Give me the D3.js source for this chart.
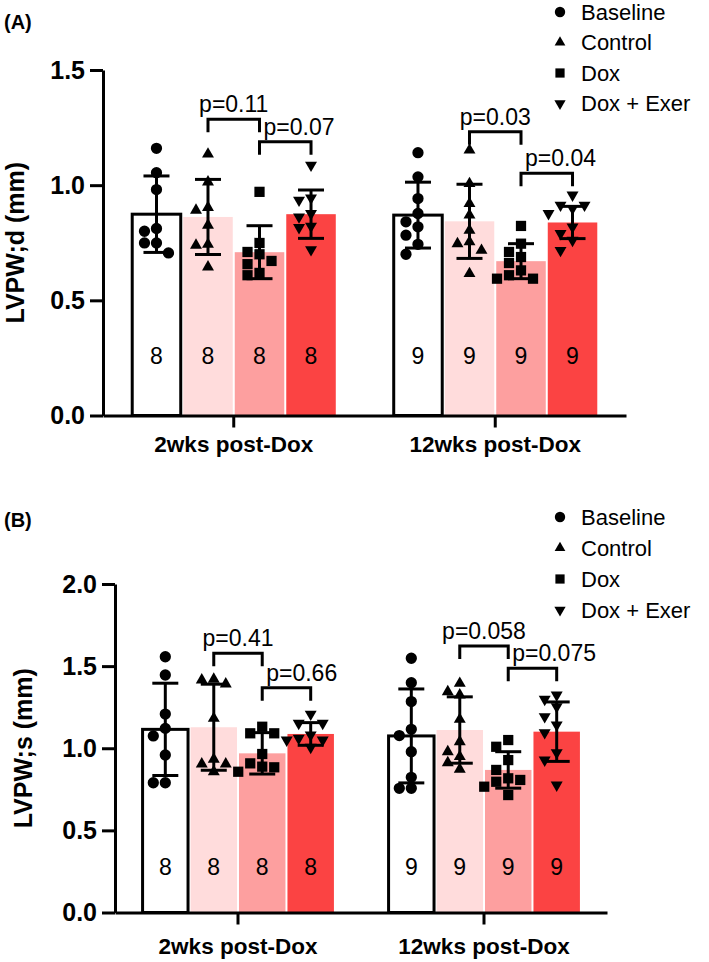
<!DOCTYPE html>
<html><head><meta charset="utf-8">
<script src="https://cdn.jsdelivr.net/npm/d3@7"></script>
<style>
body{margin:0;background:#fff}
svg{display:block}
text{font-family:"Liberation Sans",Arial,Helvetica,sans-serif}
</style>
</head><body>
<svg id="chart" width="709" height="962"></svg>
<script>
// ---------- shared categories ----------
const groups = ["2wks post-Dox", "12wks post-Dox"];
const series = ["Baseline", "Control", "Dox", "Dox + Exer"];
const seriesFill = ["#ffffff", "#ffdcdc", "#fd9f9f", "#fb4343"];
const seriesShape = ["circle", "triangle", "square", "triangleDown"];
const groupN = [8, 9];
const bracketPairs = [[1, 2], [2, 3]];

// ---------- Panel A: LVPW;d ----------
const lvpwdTicks = [0, 0.5, 1.0, 1.5];
const lvpwdMean = [[0.874, 0.862, 0.709, 0.874], [0.870, 0.843, 0.670, 0.838]];
const lvpwdSD = [[0.166, 0.163, 0.115, 0.105], [0.143, 0.161, 0.076, 0.070]];
const lvpwdPoints = [
  [[1.160, 1.054, 0.981, 0.812, 0.800, 0.749, 0.749, 0.706],
   [1.135, 1.014, 0.903, 0.891, 0.826, 0.743, 0.739, 0.645],
   [0.971, 0.749, 0.710, 0.700, 0.671, 0.657, 0.619, 0.609],
   [1.087, 0.945, 0.935, 0.877, 0.862, 0.822, 0.816, 0.720]],
  [[1.141, 1.036, 0.942, 0.877, 0.841, 0.819, 0.783, 0.743, 0.700],
   [1.152, 1.007, 0.920, 0.870, 0.804, 0.754, 0.746, 0.717, 0.616],
   [0.823, 0.746, 0.710, 0.688, 0.662, 0.630, 0.609, 0.594, 0.594],
   [0.957, 0.913, 0.913, 0.899, 0.877, 0.819, 0.790, 0.761, 0.717]]
];
const lvpwdPLabels = [["p=0.11", "p=0.07"], ["p=0.03", "p=0.04"]];
const lvpwdPLevels = [[1.286, 1.189], [1.232, 1.052]];

// ---------- Panel B: LVPW;s ----------
const lvpwsTicks = [0, 0.5, 1.0, 1.5, 2.0];
const lvpwsMean = [[1.115, 1.128, 0.969, 1.087], [1.075, 1.111, 0.868, 1.101]];
const lvpwsSD = [[0.281, 0.262, 0.126, 0.069], [0.286, 0.202, 0.111, 0.181]];
const lvpwsPoints = [
  [[1.557, 1.446, 1.208, 1.121, 1.075, 0.959, 0.790, 0.790],
   [1.420, 1.416, 1.391, 1.182, 0.933, 0.904, 0.904, 0.857],
   [1.131, 1.091, 1.091, 0.965, 0.908, 0.888, 0.884, 0.857],
   [1.208, 1.152, 1.152, 1.081, 1.061, 1.050, 1.050, 1.006]],
  [[1.548, 1.399, 1.284, 1.115, 1.077, 0.979, 0.823, 0.756, 0.756],
   [1.395, 1.344, 1.324, 1.176, 1.040, 0.979, 0.949, 0.912, 0.872],
   [1.050, 1.009, 0.928, 0.868, 0.817, 0.807, 0.796, 0.766, 0.715],
   [1.324, 1.298, 1.253, 1.192, 1.142, 1.095, 0.973, 0.928, 0.776]]
];
const lvpwsPLabels = [["p=0.41", "p=0.66"], ["p=0.058", "p=0.075"]];
const lvpwsPLevels = [[1.578, 1.369], [1.623, 1.487]];

// ---------- layout (not data) ----------
const panels = [
  { tag: "(A)", tagY: 29, title: "LVPW;d (mm)", titleX: 16,
    ticks: lvpwdTicks, mean: lvpwdMean, sd: lvpwdSD, points: lvpwdPoints,
    pLabels: lvpwdPLabels, pLevels: lvpwdPLevels,
    x0: 103, x1: 626, yTop: 70, yBot: 415.5, xPad: 9, nOffset: 52,
    legendY: 12, legendStep: 30.5 },
  { tag: "(B)", tagY: 527, title: "LVPW;s (mm)", titleX: 24,
    ticks: lvpwsTicks, mean: lvpwsMean, sd: lvpwsSD, points: lvpwsPoints,
    pLabels: lvpwsPLabels, pLevels: lvpwsPLevels,
    x0: 115, x1: 607, yTop: 584, yBot: 912.5, xPad: 14, nOffset: 37.5,
    legendY: 517, legendStep: 31 }
];

const svg = d3.select("#chart");

function shapePath(shape, size) {
  if (shape === "circle") return d3.symbol(d3.symbolCircle, size)();
  if (shape === "square") return d3.symbol(d3.symbolSquare, size)();
  return d3.symbol(d3.symbolTriangle, size)();
}
function shapeRotate(shape) { return shape === "triangleDown" ? " rotate(180)" : ""; }
const markerSize = { circle: 100, triangle: 62, square: 105, triangleDown: 62 };
const legendSize = { circle: 85, triangle: 50, square: 85, triangleDown: 55 };

panels.forEach(P => {
  const g = svg.append("g");
  const yMax = P.ticks[P.ticks.length - 1];
  const y = d3.scaleLinear().domain([0, yMax]).range([P.yBot, P.yTop]);
  const x = d3.scaleBand().domain(groups).range([P.x0, P.x1]).paddingInner(0).paddingOuter(0);
  const bw = x.bandwidth();
  const xs = d3.scaleBand().domain(series).range([bw * 0.106, bw * 0.894]).padding(0);
  const step = xs.bandwidth();

  // bars
  groups.forEach((grp, gi) => {
    series.forEach((s, si) => {
      const bx = x(grp) + xs(s);
      const top = y(P.mean[gi][si]);
      if (si === 0) {
        g.append("rect").attr("x", bx + 1.5).attr("y", top)
          .attr("width", step - 3).attr("height", y(0) - top)
          .attr("fill", "#fff").attr("stroke", "#000").attr("stroke-width", 3);
      } else {
        g.append("rect").attr("x", bx + 1).attr("y", top)
          .attr("width", step - 2).attr("height", y(0) - top)
          .attr("fill", seriesFill[si]);
      }
      g.append("text").attr("x", bx + step / 2).attr("y", P.yBot - P.nOffset)
        .attr("text-anchor", "middle").attr("font-size", 23).attr("fill", "#000")
        .text(groupN[gi]);
    });
  });

  // points with simple dodge
  groups.forEach((grp, gi) => {
    series.forEach((s, si) => {
      const cx = x(grp) + xs(s) + step / 2;
      const vals = P.points[gi][si].slice().sort((a, b) => b - a);
      const placed = [];
      const d = 12, th = 10.5;
      vals.forEach(v => {
        const py = y(v);
        const cands = [0, -d, d, -2 * d, 2 * d];
        let off = 0;
        for (const c of cands) {
          if (!placed.some(p => Math.abs(p.y - py) < th && Math.abs(p.x - c) < th)) { off = c; break; }
        }
        placed.push({ x: off, y: py });
        const sh = seriesShape[si];
        g.append("path").attr("d", shapePath(sh, markerSize[sh]))
          .attr("transform", `translate(${cx + off},${py})${shapeRotate(sh)}`)
          .attr("fill", "#000");
      });
    });
  });

  // error bars
  groups.forEach((grp, gi) => {
    series.forEach((s, si) => {
      const cx = x(grp) + xs(s) + step / 2;
      const m = P.mean[gi][si], sd = P.sd[gi][si];
      const yt = y(m + sd), yb = y(m - sd);
      const eg = g.append("g").attr("stroke", "#000").attr("stroke-width", 3);
      eg.append("line").attr("x1", cx).attr("x2", cx).attr("y1", yt).attr("y2", yb);
      eg.append("line").attr("x1", cx - 13).attr("x2", cx + 13).attr("y1", yt).attr("y2", yt);
      eg.append("line").attr("x1", cx - 13).attr("x2", cx + 13).attr("y1", yb).attr("y2", yb);
    });
  });

  // significance brackets
  groups.forEach((grp, gi) => {
    bracketPairs.forEach((pair, bi) => {
      const xa = x(grp) + xs(series[pair[0]]) + step / 2;
      const xb = x(grp) + xs(series[pair[1]]) + step / 2;
      const ly = y(P.pLevels[gi][bi]);
      g.append("path")
        .attr("d", `M${xa},${ly + 13}V${ly}H${xb}V${ly + 13}`)
        .attr("fill", "none").attr("stroke", "#000").attr("stroke-width", 3);
      const t = g.append("text").attr("y", ly - 7).attr("font-size", 23).attr("fill", "#000")
        .text(P.pLabels[gi][bi]);
      if (bi === 0) t.attr("x", (xa + xb) / 2).attr("text-anchor", "middle");
      else t.attr("x", xa + 4).attr("text-anchor", "start");
    });
  });

  // axes
  const yAxis = d3.axisLeft(y).tickValues(P.ticks).tickFormat(d3.format(".1f"))
    .tickSize(13).tickSizeOuter(0).tickPadding(5);
  const ya = g.append("g").attr("transform", `translate(${P.x0},0)`).call(yAxis);
  ya.select(".domain").attr("stroke", "#000").attr("stroke-width", 3);
  ya.selectAll(".tick line").attr("stroke", "#000").attr("stroke-width", 3);
  ya.selectAll(".tick text").attr("font-size", 25).attr("font-weight", "bold")
    .attr("fill", "#000").attr("font-family", "'Liberation Sans',Arial,sans-serif");

  const xAxis = d3.axisBottom(x).tickSize(12).tickSizeOuter(0).tickPadding(P.xPad);
  const xa = g.append("g").attr("transform", `translate(0,${P.yBot})`).call(xAxis);
  xa.select(".domain").attr("stroke", "#000").attr("stroke-width", 3);
  xa.selectAll(".tick line").attr("stroke", "#000").attr("stroke-width", 3);
  xa.selectAll(".tick text").attr("font-size", 22.5).attr("font-weight", "bold")
    .attr("fill", "#000").attr("font-family", "'Liberation Sans',Arial,sans-serif");

  // y title
  g.append("text")
    .attr("transform", `translate(${P.titleX + 8},${(P.yTop + P.yBot) / 2}) rotate(-90)`)
    .attr("text-anchor", "middle").attr("font-size", 25).attr("font-weight", "bold")
    .attr("fill", "#000").text(P.title);

  // panel tag
  g.append("text").attr("x", 4).attr("y", P.tagY).attr("font-size", 20)
    .attr("font-weight", "bold").attr("fill", "#000").text(P.tag);

  // legend
  series.forEach((s, si) => {
    const ly = P.legendY + si * P.legendStep;
    const sh = seriesShape[si];
    g.append("path").attr("d", shapePath(sh, legendSize[sh]))
      .attr("transform", `translate(560,${ly})${shapeRotate(sh)}`).attr("fill", "#000");
    g.append("text").attr("x", 581).attr("y", ly + 7.5).attr("font-size", 22)
      .attr("fill", "#000").text(s);
  });
});
</script>
</body></html>
